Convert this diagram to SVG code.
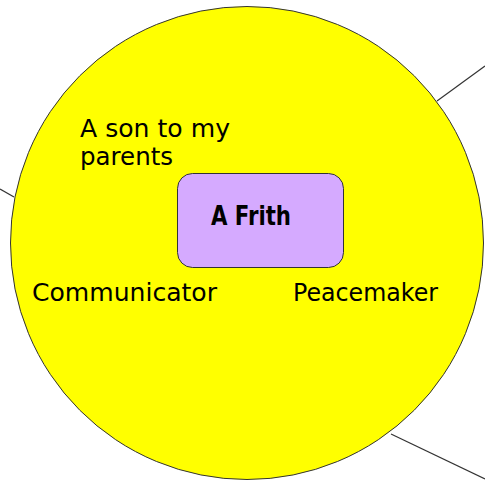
<svg xmlns="http://www.w3.org/2000/svg" width="485" height="484" viewBox="0 0 485 484">
<style>
.lbl{font-family:"DejaVu Sans","Liberation Sans",sans-serif;font-size:24.5px;fill:#000}
.conn{stroke:#333;stroke-width:1.2;fill:none}
</style>
<rect width="485" height="484" fill="#fff"/>
<g id="connectors">
<line class="conn" x1="0" y1="189" x2="14" y2="197"/>
<line class="conn" x1="437" y1="101" x2="485" y2="66"/>
<line class="conn" x1="391" y1="434" x2="485" y2="479"/>
</g>
<g id="circle">
<circle cx="247" cy="243" r="236.5" fill="#ffff00" stroke="#333" stroke-width="1"/>
<text class="lbl" x="80" y="137" textLength="150" lengthAdjust="spacingAndGlyphs">A son to my</text>
<text class="lbl" x="80" y="165">parents</text>
<text class="lbl" x="32" y="301" textLength="185" lengthAdjust="spacingAndGlyphs">Communicator</text>
<text class="lbl" x="293" y="301" textLength="145" lengthAdjust="spacingAndGlyphs">Peacemaker</text>
</g>
<g id="center">
<rect x="177.5" y="173.5" width="166" height="94" rx="15" fill="#d5aaff" stroke="#333" stroke-width="1"/>
<text x="211" y="225" textLength="80" lengthAdjust="spacingAndGlyphs" style="font-family:'DejaVu Sans Condensed','DejaVu Sans',sans-serif;font-weight:bold;font-size:27px">A Frith</text>
</g>
</svg>
